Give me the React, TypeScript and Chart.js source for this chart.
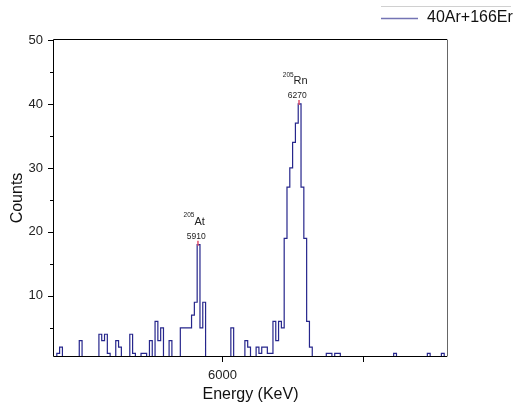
import React, { useEffect, useRef } from 'react';
import { Chart, registerables } from 'chart.js';

Chart.register(...registerables);

// ---- data ----
const seriesLabel = '40Ar+166Er';
const binStart = 5400; // keV, left edge of first bin
const binWidth = 10; // keV
// counts per 10 keV bin, rows of 10 bins (row start energy in comment)
const counts: number[] = [
  0, 1, 2, 0, 0, 0, 0, 0, 0, 3, // 5400
  0, 0, 0, 0, 0, 0, 4, 3, 4, 1, // 5500
  0, 0, 3, 2, 0, 0, 0, 4, 1, 0, // 5600
  0, 1, 1, 0, 3, 0, 6, 3, 5, 0, // 5700
  0, 3, 0, 0, 0, 5, 5, 5, 5, 7, // 5800
  9, 18, 5, 9, 0, 0, 0, 0, 0, 0, // 5900
  0, 0, 0, 5, 0, 0, 0, 0, 3, 2, // 6000
  0, 0, 2, 1, 2, 2, 1, 1, 6, 3, // 6100
  6, 5, 19, 27, 30, 34, 37, 40, 27, 19, // 6200
  6, 2, 0, 0, 0, 0, 0, 1, 1, 0, // 6300
  1, 1, 0, 0, 0, 0, 0, 0, 0, 0, // 6400
  0, 0, 0, 0, 0, 0, 0, 0, 0, 0, // 6500
  0, 1, 0, 0, 0, 0, 0, 0, 0, 0, // 6600
  0, 0, 0, 1, 0, 0, 0, 0, 1, 0, // 6700
];
const xMin = 5400;
const xMax = 6800;
const yMin = 0.6;
const yMax = 50;
const yMajorTicks = [10, 20, 30, 40, 50];
const yMinorTicks = [5, 15, 25, 35, 45];
const xTickValues = [6000, 6500];
const xTickLabels = ['6000', ''];
const peakEnergies = [5910, 6270];
const peakCounts = [18, 40];
const peakMass = ['205', '205'];
const peakSymbol = ['At', 'Rn'];
const peakText = ['5910', '6270'];

const FONT = '"Liberation Sans", Arial, Helvetica, sans-serif';
const LINE_COLOR = '#26268c';

const decorPlugin = {
  id: 'decor',
  afterDraw(chart: any) {
    const ctx = chart.ctx as CanvasRenderingContext2D;
    const { left, right, top, bottom } = chart.chartArea;
    const xs = chart.scales.x;
    const ys = chart.scales.y;
    ctx.save();
    // frame
    ctx.lineWidth = 1;
    ctx.strokeStyle = '#000';
    ctx.beginPath();
    ctx.moveTo(left - 0.5, top - 0.5);
    ctx.lineTo(right, top - 0.5);
    ctx.moveTo(left - 0.5, top - 0.5);
    ctx.lineTo(left - 0.5, bottom + 0.5);
    ctx.lineTo(right, bottom + 0.5);
    ctx.stroke();
    ctx.strokeStyle = '#666';
    ctx.beginPath();
    ctx.moveTo(right + 0.5, top - 0.5);
    ctx.lineTo(right + 0.5, bottom + 0.5);
    ctx.stroke();
    // y ticks
    ctx.strokeStyle = '#000';
    ctx.beginPath();
    yMajorTicks.forEach((v) => {
      const y = Math.round(ys.getPixelForValue(v)) + 0.5;
      ctx.moveTo(left - 6, y);
      ctx.lineTo(left, y);
    });
    yMinorTicks.forEach((v) => {
      const y = Math.round(ys.getPixelForValue(v)) + 0.5;
      ctx.moveTo(left - 4, y);
      ctx.lineTo(left, y);
    });
    xTickValues.forEach((v) => {
      const x = Math.round(xs.getPixelForValue(v)) + 0.5;
      ctx.moveTo(x, bottom);
      ctx.lineTo(x, bottom + 6);
    });
    ctx.stroke();

    // axis titles
    ctx.fillStyle = '#111';
    ctx.font = `16px ${FONT}`;
    ctx.textAlign = 'center';
    ctx.textBaseline = 'middle';
    ctx.fillText('Energy (KeV)', (left + right) / 2, 395);
    ctx.save();
    ctx.translate(18, (top + bottom) / 2);
    ctx.rotate(-Math.PI / 2);
    ctx.fillText('Counts', 0, 0);
    ctx.restore();

    // legend
    ctx.strokeStyle = '#d0d0d0';
    ctx.lineWidth = 1;
    ctx.beginPath();
    ctx.moveTo(381, 6.5);
    ctx.lineTo(511, 6.5);
    ctx.stroke();
    ctx.strokeStyle = '#7474b4';
    ctx.lineWidth = 1.5;
    ctx.beginPath();
    ctx.moveTo(381, 18.5);
    ctx.lineTo(418, 18.5);
    ctx.stroke();
    ctx.fillStyle = '#111';
    ctx.font = `16px ${FONT}`;
    ctx.textAlign = 'left';
    ctx.fillText(seriesLabel, 427, 18);

    // peak annotations
    peakEnergies.forEach((e, i) => {
      const x = xs.getPixelForValue(e);
      const y = ys.getPixelForValue(peakCounts[i]);
      // red marker
      ctx.strokeStyle = '#e0506a';
      ctx.lineWidth = 1.5;
      ctx.beginPath();
      ctx.moveTo(x + 0.8, y - 4);
      ctx.lineTo(x + 0.8, y + 1);
      ctx.stroke();
      ctx.fillStyle = '#222';
      // value
      ctx.font = `8.5px ${FONT}`;
      ctx.textAlign = 'center';
      ctx.fillText(peakText[i], x - 1, y - 8);
      // isotope
      ctx.font = `6.5px ${FONT}`;
      const w1 = ctx.measureText(peakMass[i]).width;
      ctx.font = `11px ${FONT}`;
      const w2 = ctx.measureText(peakSymbol[i]).width;
      const startX = x - 3 - (w1 + w2) / 2;
      ctx.textAlign = 'left';
      ctx.font = `6.5px ${FONT}`;
      ctx.fillText(peakMass[i], startX, y - 29);
      ctx.font = `11px ${FONT}`;
      ctx.fillText(peakSymbol[i], startX + w1, y - 23);
    });
    ctx.restore();
  },
};

export default function App() {
  const ref = useRef<HTMLCanvasElement | null>(null);
  useEffect(() => {
    document.body.style.margin = '0';
    const points = counts.map((c, i) => ({ x: binStart + i * binWidth, y: c }));
    points.push({ x: binStart + counts.length * binWidth, y: 0 });
    const chart = new Chart(ref.current as HTMLCanvasElement, {
      type: 'line',
      data: {
        datasets: [
          {
            label: seriesLabel,
            data: points,
            borderColor: LINE_COLOR,
            borderWidth: 1.2,
            pointRadius: 0,
            stepped: true,
            fill: false,
          },
        ],
      },
      options: {
        responsive: false,
        animation: false,
        layout: { padding: { top: 40, right: 74, left: 0, bottom: 0 } },
        plugins: { legend: { display: false }, tooltip: { enabled: false } },
        scales: {
          x: {
            type: 'linear',
            min: xMin,
            max: xMax,
            grid: { display: false },
            border: { display: false },
            afterBuildTicks: (s: any) => {
              s.ticks = xTickValues.map((v) => ({ value: v }));
            },
            afterFit: (s: any) => {
              s.height = 54;
            },
            ticks: {
              autoSkip: false,
              maxRotation: 0,
              padding: 4,
              color: '#222',
              font: { family: FONT, size: 13 },
              callback: (v: any) => xTickLabels[xTickValues.indexOf(Number(v))] ?? '',
            },
          },
          y: {
            type: 'linear',
            min: yMin,
            max: yMax,
            grid: { display: false },
            border: { display: false },
            afterBuildTicks: (s: any) => {
              s.ticks = yMajorTicks.map((v) => ({ value: v }));
            },
            afterFit: (s: any) => {
              s.width = 54;
            },
            ticks: {
              autoSkip: false,
              padding: 3,
              color: '#222',
              font: { family: FONT, size: 13 },
              callback: (v: any) => String(v),
            },
          },
        },
      },
      plugins: [decorPlugin],
    });
    return () => chart.destroy();
  }, []);
  return (
    <div style={{ width: 521, height: 410 }}>
      <canvas ref={ref} width={521} height={410} />
    </div>
  );
}
